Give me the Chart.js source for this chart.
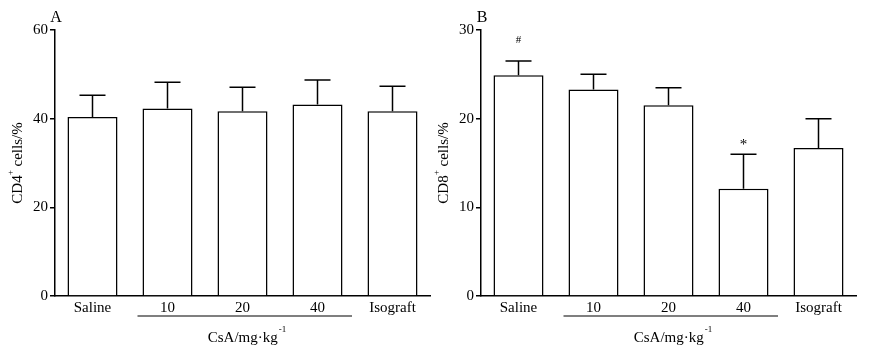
<!DOCTYPE html>
<html>
<head>
<meta charset="utf-8">
<script src="https://cdn.jsdelivr.net/npm/chart.js@4.4.1/dist/chart.umd.min.js"></script>
<style>
  html, body { margin: 0; padding: 0; background: #fff; }
  .panel { position: absolute; top: 0; height: 357px; }
  #wrap-a { left: 0; width: 440px; }
  #wrap-b { left: 426px; width: 443px; }
</style>
</head>
<body>
<div class="panel" id="wrap-a"><canvas id="chart-a"></canvas></div>
<div class="panel" id="wrap-b"><canvas id="chart-b"></canvas></div>
<script>
'use strict';

// ===== データ =====
const groups = ['Saline', '10', '20', '40', 'Isograft'];

const cd4Mean = [40.4, 42.3, 41.7, 43.2, 41.7];
const cd4Sd   = [4.9, 5.9, 5.4, 5.5, 5.6];

const cd8Mean = [24.9, 23.3, 21.5, 12.1, 16.7];
const cd8Sd   = [1.6, 1.7, 2.0, 3.9, 3.3];
const cd8Marks = ['#', '', '', '*', ''];

const cd4Ticks = [0, 20, 40, 60];
const cd8Ticks = [0, 10, 20, 30];

const FONT = "'Liberation Serif', 'Times New Roman', serif";

// 誤差棒 + 注記 + 軸タイトル（上付き文字あり）
const panelDecor = {
  id: 'panelDecor',
  afterDatasetsDraw(chart, args, o) {
    const ctx = chart.ctx;
    const meta = chart.getDatasetMeta(0);
    const ys = chart.scales.y;
    const xs = chart.scales.x;
    const area = chart.chartArea;

    ctx.save();
    ctx.strokeStyle = '#000';
    ctx.lineWidth = 1.5;
    meta.data.forEach((bar, i) => {
      const top = ys.getPixelForValue(o.mean[i] + o.sd[i]);
      ctx.beginPath();
      ctx.moveTo(bar.x, bar.y);
      ctx.lineTo(bar.x, top);
      ctx.moveTo(bar.x - 13, top);
      ctx.lineTo(bar.x + 13, top);
      ctx.stroke();

      const mark = o.marks ? o.marks[i] : '';
      if (mark) {
        ctx.fillStyle = '#000';
        ctx.textAlign = 'center';
        ctx.textBaseline = 'middle';
        ctx.font = (mark === '#' ? '11px ' : '15px ') + FONT;
        ctx.fillText(mark, bar.x, top - (mark === '#' ? 21 : 9));
      }
    });

    // CsA 下線
    const cw = xs.width / groups.length;
    const x1 = xs.getPixelForValue(1) - cw * 0.40;
    const x2 = xs.getPixelForValue(3) + cw * 0.46;
    ctx.beginPath();
    ctx.lineWidth = 1.2;
    ctx.moveTo(x1, 316);
    ctx.lineTo(x2, 316);
    ctx.stroke();

    // x 軸タイトル
    ctx.fillStyle = '#000';
    ctx.textBaseline = 'middle';
    ctx.font = '15px ' + FONT;
    const base = 'CsA/mg\u00b7kg';
    const sup = '-1';
    const bw = ctx.measureText(base).width;
    ctx.font = '9px ' + FONT;
    const sw = ctx.measureText(sup).width;
    const cx = xs.getPixelForValue(2) + 4;
    let sx = cx - (bw + sw) / 2;
    ctx.font = '15px ' + FONT;
    ctx.textAlign = 'left';
    ctx.fillText(base, sx, 338);
    ctx.font = '9px ' + FONT;
    ctx.fillText(sup, sx + bw + 1, 330);

    // y 軸タイトル
    ctx.save();
    ctx.translate(o.titleX, (area.top + area.bottom) / 2);
    ctx.rotate(-Math.PI / 2);
    const parts = [[o.yPre, 15, 0], ['+', 9, -7], [' cells/%', 15, 0]];
    let total = 0;
    parts.forEach(p => { ctx.font = p[1] + 'px ' + FONT; total += ctx.measureText(p[0]).width; });
    let px = -total / 2;
    parts.forEach(p => {
      ctx.font = p[1] + 'px ' + FONT;
      ctx.fillText(p[0], px, p[2]);
      px += ctx.measureText(p[0]).width;
    });
    ctx.restore();

    // パネル記号
    ctx.font = '16px ' + FONT;
    ctx.textAlign = 'center';
    ctx.fillText(o.letter, area.left + 1, 18);
    ctx.restore();
  }
};

function makePanel(id, mean, sd, marks, ticks, yPre, letter, rightPad) {
  const yMax = ticks[ticks.length - 1];
  return new Chart(document.getElementById(id), {
    type: 'bar',
    data: {
      labels: groups,
      datasets: [{
        data: mean,
        backgroundColor: '#fff',
        borderColor: '#000',
        borderWidth: 1.5,
        barPercentage: 0.667,
        categoryPercentage: 1,
      }],
    },
    options: {
      responsive: true,
      maintainAspectRatio: false,
      animation: false,
      layout: { padding: { top: 30, right: rightPad, left: 0, bottom: 0 } },
      plugins: {
        legend: { display: false },
        tooltip: { enabled: false },
        panelDecor: { mean: mean, sd: sd, marks: marks, yPre: yPre, letter: letter, titleX: 18 },
      },
      scales: {
        x: {
          grid: { display: false, drawTicks: false, tickLength: 0 },
          border: { display: true, color: '#000', width: 1.5 },
          ticks: { color: '#000', font: { family: FONT, size: 15 }, padding: 3 },
          afterFit: s => { s.height = 61; },
        },
        y: {
          min: 0,
          max: yMax,
          afterBuildTicks: s => { s.ticks = ticks.map(v => ({ value: v })); },
          grid: { drawOnChartArea: false, color: '#000', tickLength: 5, lineWidth: 1.5 },
          border: { display: true, color: '#000', width: 1.5 },
          ticks: { color: '#000', font: { family: FONT, size: 15 }, padding: 2 },
          afterFit: s => { s.width = 55; },
        },
      },
    },
    plugins: [panelDecor],
  });
}

makePanel('chart-a', cd4Mean, cd4Sd, null, cd4Ticks, 'CD4', 'A', 10);
makePanel('chart-b', cd8Mean, cd8Sd, cd8Marks, cd8Ticks, 'CD8', 'B', 13);
</script>
</body>
</html>
